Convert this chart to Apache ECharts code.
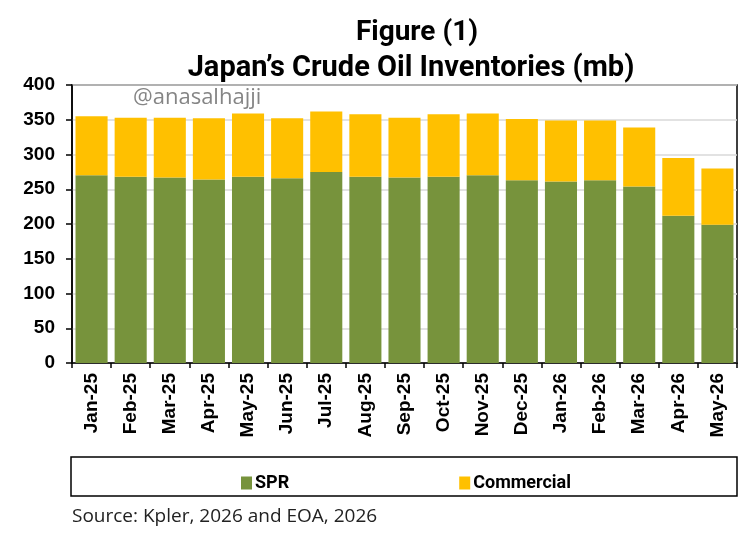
<!DOCTYPE html>
<html><head><meta charset="utf-8">
<script src="https://cdn.jsdelivr.net/npm/echarts@6/dist/echarts.min.js"></script>
<style>html,body{margin:0;padding:0;background:#fff}#c{width:752px;height:544px}</style>
</head><body><div id="c"></div>
<script>
const categories = ['Jan-25','Feb-25','Mar-25','Apr-25','May-25','Jun-25','Jul-25','Aug-25','Sep-25','Oct-25','Nov-25','Dec-25','Jan-26','Feb-26','Mar-26','Apr-26','May-26'];
const spr = [270, 268, 267, 264, 268, 266, 275, 268, 267, 268, 270, 263, 261, 263, 254, 212, 199];
const commercial = [85, 85, 86, 88, 91, 86, 87, 90, 86, 90, 89, 88, 88, 86, 85, 83, 81];
const yTicks = [0, 50, 100, 150, 200, 250, 300, 350, 400];

const BOLDF = "Roboto,'Liberation Sans',sans-serif";
const chart = echarts.init(document.getElementById('c'), null, {renderer:'canvas'});
chart.setOption({
  animation:false,
  backgroundColor:'#fff',
  title:[
    {text:'Figure (1)', left:412, top:14, textAlign:'center',
     textStyle:{fontFamily:BOLDF, fontWeight:'bold', fontSize:28, color:'#000'}},
    {text:'Japan\u2019s Crude Oil Inventories (mb)', left:406, top:49, textAlign:'center',
     textStyle:{fontFamily:BOLDF, fontWeight:'bold', fontSize:29, color:'#000'}}
  ],
  grid:{left:72, right:15, top:85, bottom:181, show:true, borderColor:'#000', borderWidth:1.5},
  legend:{left:236, top:469, itemGap:170, itemWidth:11, itemHeight:13, icon:'rect',
    textStyle:{fontFamily:BOLDF, fontWeight:'bold', fontSize:18, color:'#000', padding:[0,0,0,-2]},
    data:['SPR','Commercial']},
  graphic:[
    {type:'rect', shape:{x:71, y:457, width:666, height:39}, style:{fill:'none', stroke:'#000', lineWidth:1.5}},
    {type:'text', left:72, top:507, style:{text:'Source: Kpler, 2026 and EOA, 2026', fontFamily:"'Open Sans',sans-serif", fontSize:19, fill:'#222'}},
    {type:'text', left:133, top:87, style:{text:'@anasalhajji', fontFamily:"'Open Sans',sans-serif", fontSize:22, fill:'#858585'}}
  ],
  xAxis:{type:'category', data:categories,
    axisLine:{lineStyle:{color:'#000', width:1.5}},
    axisTick:{show:true, length:5, lineStyle:{color:'#000', width:1.5}},
    axisLabel:{rotate:90, fontFamily:"'Liberation Sans',Arial,sans-serif", fontWeight:'bold', fontSize:19, color:'#000', margin:10, interval:0}},
  yAxis:{type:'value', min:0, max:400, interval:50,
    axisLine:{show:true, lineStyle:{color:'#000', width:1.5}},
    axisTick:{show:true, length:6, lineStyle:{color:'#000', width:1.5}},
    splitLine:{lineStyle:{color:'#d9d9d9', width:1.5}},
    axisLabel:{fontFamily:"'Liberation Sans',Arial,sans-serif", fontWeight:'bold', fontSize:19, color:'#000', margin:17,
      formatter:v=>yTicks.includes(v)?String(v):''}},
  series:[
    {name:'SPR', type:'bar', stack:'a', data:spr, itemStyle:{color:'#77933C'}, barCategoryGap:'18%'},
    {name:'Commercial', type:'bar', stack:'a', data:commercial, itemStyle:{color:'#FFC000'}}
  ]
});
</script>
</body></html>
